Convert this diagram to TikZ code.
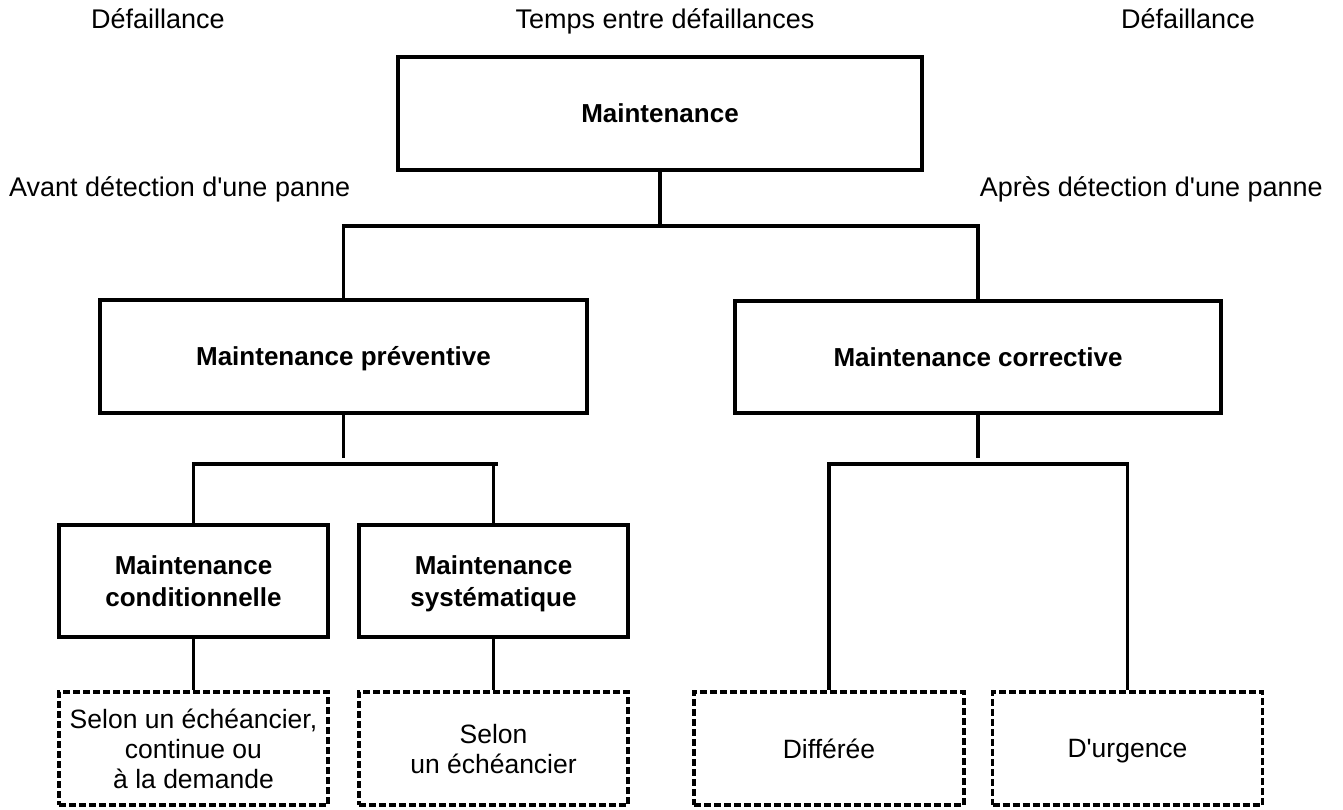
\documentclass[tikz,border=0pt]{standalone}
\usepackage{fontspec}
\setmainfont[Ligatures=TeXOff]{Liberation Sans}
\newcommand\zstrut{\rule[-5pt]{0pt}{29pt}}
\begin{document}
\begin{tikzpicture}[x=1pt,y=-1pt,
  lbl/.style={inner sep=0pt,anchor=base,font=\fontsize{27}{32}\selectfont},
  solidbox/.style={draw,line width=4pt,rectangle,inner sep=0pt,align=center,
    font=\fontsize{26}{32}\selectfont\bfseries},
  dashbox/.style={draw,line width=3.8pt,rectangle,inner sep=0pt,align=center,
    dash pattern=on 7pt off 3pt,font=\fontsize{26.5}{30}\selectfont},
  conn/.style={line width=3.2pt,line join=miter},
  barline/.style={line width=4.5pt,line cap=butt}]
\useasboundingbox (0,0) rectangle (1343,810);
% header labels
\node[lbl] (fl) at (158,28.5) {Défaillance};
\node[lbl] (tm) at (665,28.5) {Temps entre défaillances};
\node[lbl] (fr) at (1188,28.5) {Défaillance};
\node[lbl,anchor=base west] (av) at (9,197) {Avant détection d'une panne};
\node[lbl,anchor=base east] (ap) at (1323,197) {Après détection d'une panne};
% boxes
\node[solidbox,minimum width=524pt,minimum height=113pt] (top) at (660,113.5) {\zstrut Maintenance};
\node[solidbox,minimum width=487pt,minimum height=113pt] (prev) at (343.5,356.5) {\zstrut Maintenance préventive};
\node[solidbox,minimum width=486pt,minimum height=112pt] (corr) at (978,357) {\zstrut Maintenance corrective};
\node[solidbox,minimum width=269pt,minimum height=112pt] (cond) at (193.5,581) {\zstrut Maintenance\\\zstrut conditionnelle};
\node[solidbox,minimum width=269pt,minimum height=112pt] (syst) at (493.5,581) {\zstrut Maintenance\\\zstrut systématique};
\node[dashbox,minimum width=269pt,minimum height=113pt] (sel1) at (193.5,748.5) {\zstrut Selon un échéancier,\\\zstrut continue ou\\\zstrut à la demande};
\node[dashbox,minimum width=269pt,minimum height=113pt] (sel2) at (493.5,748.5) {\zstrut Selon\\\zstrut un échéancier};
\node[dashbox,minimum width=270pt,minimum height=113pt] (diff) at (829,748.5) {\zstrut Différée};
\node[dashbox,minimum width=270pt,minimum height=113pt] (urg) at (1127.5,748.5) {\zstrut D'urgence};
% bar coordinates
\coordinate (b1) at (661,226);
\coordinate (b2) at (343.5,464);
\coordinate (b3) at (978,464);
% level 1
\draw[conn] (top.south) -- (top.south |- b1);
\draw[barline] ([xshift=-1.6pt]prev.north |- b1) -- ([xshift=2pt]corr.north |- b1);
\draw[conn] (prev.north |- b1) -- (prev.north);
\draw[conn] (corr.north |- b1) -- (corr.north);
% level 2 left
\draw[conn] (prev.south) -- ([yshift=6pt]b2);
\draw[barline] ([xshift=-1.6pt]cond.north |- b2) -- ([xshift=4pt]syst.north |- b2);
\draw[conn] (cond.north |- b2) -- (cond.north);
\draw[conn] (syst.north |- b2) -- (syst.north);
\draw[conn] (cond.south) -- (sel1.north);
\draw[conn] (syst.south) -- (sel2.north);
% level 2 right
\draw[conn] (corr.south) -- ([yshift=6pt]b3);
\draw[barline] ([xshift=-1.6pt]diff.north |- b3) -- ([xshift=1.6pt]urg.north |- b3);
\draw[conn] (diff.north |- b3) -- (diff.north);
\draw[conn] (urg.north |- b3) -- (urg.north);
\end{tikzpicture}
\end{document}
